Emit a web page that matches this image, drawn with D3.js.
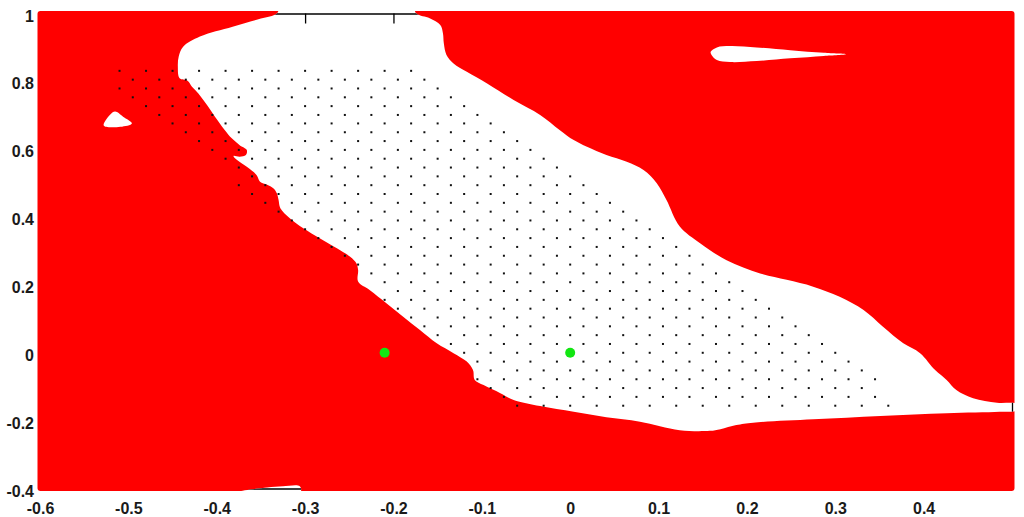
<!DOCTYPE html>
<html>
<head>
<meta charset="utf-8">
<script src="https://cdn.jsdelivr.net/npm/d3@7"></script>
<style>
  body { margin: 0; background: #fff; }
  svg { display: block; }
  .lbl text { font-family: "Liberation Sans", Arial, sans-serif; font-weight: bold; font-size: 16px; fill: #1a1a1a; }
</style>
</head>
<body>
<svg id="chart" width="1024" height="517"></svg>
<script>
// ---------- data ----------
const xTicks = [-0.6, -0.5, -0.4, -0.3, -0.2, -0.1, 0, 0.1, 0.2, 0.3, 0.4];
const xTickLabels = ["-0.6", "-0.5", "-0.4", "-0.3", "-0.2", "-0.1", "0", "0.1", "0.2", "0.3", "0.4"];
const xMinorTicks = [-0.6, -0.5, -0.4, -0.3, -0.2, -0.1, 0, 0.1, 0.2, 0.3, 0.4, 0.5];
const yTicks = [-0.4, -0.2, 0, 0.2, 0.4, 0.6, 0.8, 1];
const yTickLabels = ["-0.4", "-0.2", "0", "0.2", "0.4", "0.6", "0.8", "1"];

// white (non-red) regions, boundary points [x, y]
const bandBoundary = [
  [-0.332, 1.0], [-0.326, 1.03], [-0.180, 1.03], [-0.174, 1.0],
  [-0.159, 0.986], [-0.147, 0.966], [-0.144, 0.942], [-0.143, 0.912], [-0.140, 0.878],
  [-0.132, 0.853], [-0.117, 0.828], [-0.094, 0.794], [-0.064, 0.745], [-0.034, 0.701],
  [-0.012, 0.657], [0.004, 0.627], [0.019, 0.607], [0.041, 0.583], [0.064, 0.563],
  [0.083, 0.539], [0.098, 0.500], [0.109, 0.450], [0.124, 0.372], [0.147, 0.323],
  [0.177, 0.273], [0.215, 0.234], [0.245, 0.215], [0.275, 0.195], [0.305, 0.165],
  [0.332, 0.126], [0.354, 0.077], [0.377, 0.028], [0.396, -0.001], [0.413, -0.051],
  [0.426, -0.080], [0.437, -0.110], [0.456, -0.134], [0.483, -0.147], [0.506, -0.151],
  [0.506, -0.169], [0.486, -0.174], [0.426, -0.178], [0.351, -0.186], [0.275, -0.196],
  [0.207, -0.206], [0.188, -0.213], [0.170, -0.225], [0.158, -0.230], [0.124, -0.228],
  [0.079, -0.203], [0.041, -0.190], [0.004, -0.174], [-0.034, -0.157], [-0.064, -0.139],
  [-0.079, -0.119], [-0.098, -0.095], [-0.108, -0.080], [-0.110, -0.051], [-0.117, -0.026],
  [-0.132, -0.001], [-0.151, 0.028], [-0.170, 0.067], [-0.189, 0.106], [-0.208, 0.146],
  [-0.227, 0.185], [-0.240, 0.210], [-0.240, 0.244], [-0.242, 0.264], [-0.249, 0.283],
  [-0.264, 0.308], [-0.283, 0.337], [-0.302, 0.367], [-0.317, 0.396], [-0.328, 0.426],
  [-0.330, 0.450], [-0.332, 0.470], [-0.336, 0.485], [-0.343, 0.495], [-0.351, 0.504],
  [-0.355, 0.524], [-0.366, 0.548], [-0.377, 0.568], [-0.381, 0.580], [-0.374, 0.578],
  [-0.367, 0.583], [-0.366, 0.598], [-0.374, 0.612], [-0.383, 0.632], [-0.391, 0.657],
  [-0.402, 0.696], [-0.411, 0.730], [-0.421, 0.765], [-0.428, 0.784], [-0.433, 0.802],
  [-0.442, 0.809], [-0.444, 0.843], [-0.443, 0.873], [-0.438, 0.902], [-0.419, 0.932],
  [-0.382, 0.961], [-0.350, 0.985]
];
const holeBoundary = [
  [-0.528, 0.671], [-0.521, 0.701], [-0.515, 0.711], [-0.506, 0.696], [-0.496, 0.676],
  [-0.509, 0.666], [-0.525, 0.666]
];
const sliverBoundary = [
  [0.159, 0.887], [0.166, 0.900], [0.181, 0.904], [0.211, 0.900], [0.249, 0.892],
  [0.287, 0.884], [0.312, 0.880], [0.287, 0.875], [0.249, 0.868], [0.211, 0.860],
  [0.181, 0.857], [0.166, 0.863], [0.160, 0.878]
];
const bottomSliverBoundary = [
  [-0.374, -0.409], [-0.343, -0.397], [-0.325, -0.3935], [-0.306, -0.3935], [-0.305, -0.409]
];

// sample-point lattice rows: y value, first x, last x (spacing 0.03)
const dotStep = 0.03;
const dotRowY = [0.831, 0.805, 0.779, 0.753, 0.727, 0.701, 0.676, 0.650, 0.624, 0.598,
  0.572, 0.546, 0.520, 0.494, 0.468, 0.442, 0.416, 0.390, 0.364, 0.338,
  0.312, 0.286, 0.260, 0.234, 0.208, 0.182, 0.156, 0.130, 0.104, 0.078,
  0.052, 0.026, 0, -0.026, -0.052, -0.078, -0.104, -0.130, -0.156];
const dotRowStart = [-0.51, -0.495, -0.51, -0.495, -0.48, -0.465, -0.45, -0.435, -0.42, -0.405,
  -0.39, -0.375, -0.36, -0.375, -0.36, -0.345, -0.33, -0.315, -0.30, -0.285,
  -0.27, -0.255, -0.24, -0.225, -0.21, -0.195, -0.21, -0.195, -0.18, -0.165,
  -0.15, -0.135, -0.12, -0.105, -0.09, -0.105, -0.09, -0.075, -0.06];
const dotRowEnd = [-0.18, -0.165, -0.15, -0.135, -0.12, -0.105, -0.09, -0.075, -0.06, -0.045,
  -0.03, -0.015, 0, 0.015, 0.03, 0.045, 0.06, 0.075, 0.09, 0.105,
  0.12, 0.135, 0.15, 0.165, 0.18, 0.195, 0.21, 0.225, 0.24, 0.255,
  0.27, 0.285, 0.30, 0.315, 0.33, 0.345, 0.33, 0.345, 0.36];

const greenX = [-0.21, 0];
const greenY = [0, 0];

// ---------- drawing ----------
const svg = d3.select("#chart");
const x = d3.scaleLinear().domain([-0.6, 0.5]).range([40, 1012]);
const y = d3.scaleLinear().domain([-0.4, 1]).range([488.5, 13.5]);

const shapeLine = d3.line()
  .x(d => x(d[0])).y(d => y(d[1]))
  .curve(d3.curveCatmullRomClosed.alpha(0.5));
const whiteShapes = [bandBoundary, holeBoundary, sliverBoundary, bottomSliverBoundary];

const defs = svg.append("defs");
defs.append("clipPath").attr("id", "whiteClip")
  .selectAll("path").data(whiteShapes).join("path").attr("d", shapeLine);

// red field (with thick rounded edge overshoot)
svg.append("rect")
  .attr("x", x(-0.6) - 2.5).attr("y", y(1) - 2.5)
  .attr("width", x(0.5) - x(-0.6) + 5).attr("height", y(-0.4) - y(1) + 5)
  .attr("rx", 3).attr("fill", "#ff0000");

// white regions
svg.append("g").selectAll("path").data(whiteShapes).join("path")
  .attr("d", shapeLine).attr("fill", "#ffffff");

// axes box & inward ticks, visible only where not covered by red
const axG = svg.append("g").attr("clip-path", "url(#whiteClip)");
function styleAxis(g) {
  g.select(".domain").attr("stroke", "#000").attr("stroke-width", 1.3);
  g.selectAll(".tick line").attr("stroke", "#000").attr("stroke-width", 1.3);
  g.selectAll(".tick text").remove();
}
axG.append("g").attr("transform", `translate(0,${y(1)})`)
  .call(d3.axisTop(x).tickValues(xMinorTicks).tickSizeInner(-10).tickSizeOuter(0)).call(styleAxis);
axG.append("g").attr("transform", `translate(0,${y(-0.4)})`)
  .call(d3.axisBottom(x).tickValues(xMinorTicks).tickSizeInner(-10).tickSizeOuter(0)).call(styleAxis);
axG.append("g").attr("transform", `translate(${x(-0.6)},0)`)
  .call(d3.axisLeft(y).tickValues(yTicks).tickSizeInner(-10).tickSizeOuter(0)).call(styleAxis);
axG.append("g").attr("transform", `translate(${x(0.5)},0)`)
  .call(d3.axisRight(y).tickValues(yTicks).tickSizeInner(-10).tickSizeOuter(0)).call(styleAxis);

// tick labels
const xLab = svg.append("g").attr("class", "lbl").attr("transform", `translate(0,${y(-0.4)})`)
  .call(d3.axisBottom(x).tickValues(xTicks).tickSize(0)
    .tickFormat((d, i) => xTickLabels[i]));
xLab.select(".domain").remove();
xLab.selectAll(".tick text").attr("y", 25).attr("dy", 0);

const yLab = svg.append("g").attr("class", "lbl").attr("transform", `translate(${x(-0.6)},0)`)
  .call(d3.axisLeft(y).tickValues(yTicks).tickSize(0)
    .tickFormat((d, i) => yTickLabels[i]));
yLab.select(".domain").remove();
yLab.selectAll(".tick text").attr("x", -6).attr("y", 7.5).attr("dy", 0);

// lattice sample points
const dots = [];
dotRowY.forEach((yy, i) => {
  const n = Math.round((dotRowEnd[i] - dotRowStart[i]) / dotStep);
  for (let k = 0; k <= n; k++) dots.push([dotRowStart[i] + k * dotStep, yy]);
});
svg.append("g").selectAll("rect").data(dots).join("rect")
  .attr("x", d => x(d[0]) - 1).attr("y", d => y(d[1]) - 1)
  .attr("width", 2).attr("height", 2).attr("fill", "#111");

// green points
svg.append("g").selectAll("circle").data(greenX).join("circle")
  .attr("cx", d => x(d)).attr("cy", (d, i) => y(greenY[i]))
  .attr("r", 5).attr("fill", "#12e612");
</script>
</body>
</html>
